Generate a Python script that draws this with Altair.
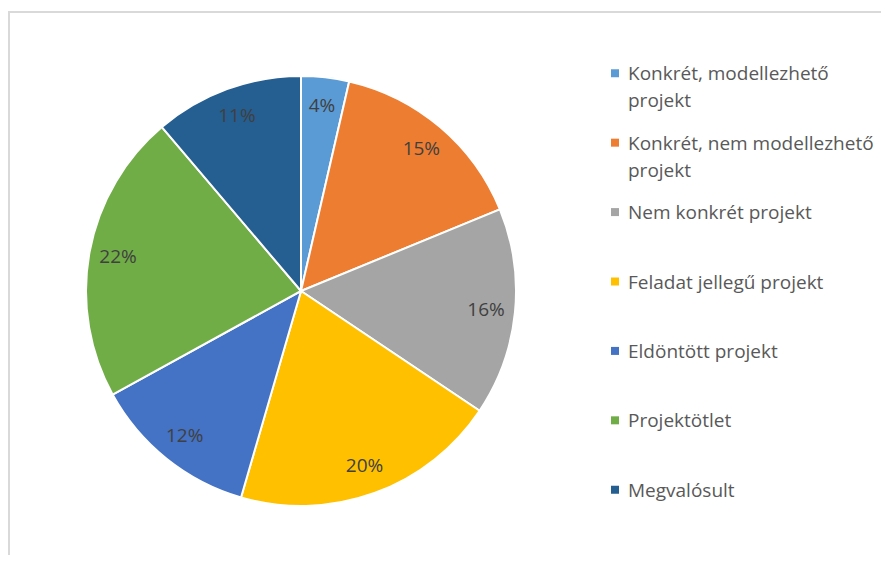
import altair as alt
import pandas as pd

categories = [
    "Konkrét, modellezhető projekt",
    "Konkrét, nem modellezhető projekt",
    "Nem konkrét projekt",
    "Feladat jellegű projekt",
    "Eldöntött projekt",
    "Projektötlet",
    "Megvalósult",
]
legend_labels = [
    "Konkrét, modellezhető|projekt",
    "Konkrét, nem modellezhető|projekt",
    "Nem konkrét projekt",
    "Feladat jellegű projekt",
    "Eldöntött projekt",
    "Projektötlet",
    "Megvalósult",
]
values = [3.6, 15.2, 15.6, 20.1, 12.5, 21.8, 11.2]
pct_labels = ["4%", "15%", "16%", "20%", "12%", "22%", "11%"]
colors = ["#5B9BD5", "#ED7D31", "#A5A5A5", "#FFC000", "#4472C4", "#70AD47", "#255E91"]

df = pd.DataFrame({
    "category": categories,
    "legend_label": legend_labels,
    "value": values,
    "pct": pct_labels,
    "idx": list(range(len(categories))),
})

W, H = 873, 547
CX, CY = 293, 283
R = 215
FONT = "Open Sans"

base = alt.Chart(df)
color = alt.Color("category:N", scale=alt.Scale(domain=categories, range=colors), legend=None)
theta = alt.Theta("value:Q", stack=True)
order = alt.Order("idx:Q", sort="ascending")

pie = base.mark_arc(outerRadius=R, stroke="white", strokeWidth=2).encode(
    theta=theta, color=color, order=order, x=alt.value(CX), y=alt.value(CY)
)

labels = base.mark_text(radius=186, fontSize=19, color="#404040", font=FONT).encode(
    theta=theta, order=order, text="pct:N", x=alt.value(CX), y=alt.value(CY)
)

ly = alt.Y("category:N", sort=categories, scale=alt.Scale(type="point", padding=0.94), axis=None)

leg_sym = base.mark_square(size=64, opacity=1, filled=True).encode(
    x=alt.value(607), y=ly, color=color
)
leg_txt = base.mark_text(
    align="left", baseline="alphabetic", dy=7, lineBreak="|", lineHeight=27,
    fontSize=19, color="#595959", font=FONT
).encode(x=alt.value(620), y=ly, text="legend_label:N")

dummy = alt.Chart(pd.DataFrame({"a": [0]}))
top_rule = dummy.mark_rule(color="#d9d9d9", strokeWidth=2).encode(
    x=alt.value(0), x2=alt.value(W), y=alt.value(4)
)
left_rule = dummy.mark_rule(color="#d9d9d9", strokeWidth=2).encode(
    x=alt.value(1), y=alt.value(4), y2=alt.value(H)
)

chart = alt.layer(top_rule, left_rule, pie, labels, leg_sym, leg_txt).properties(
    width=W, height=H, autosize=alt.AutoSizeParams(type="none"), padding=0
).configure_view(stroke=None)

chart.save("out.html", embed_options={"renderer": "svg", "actions": False})
